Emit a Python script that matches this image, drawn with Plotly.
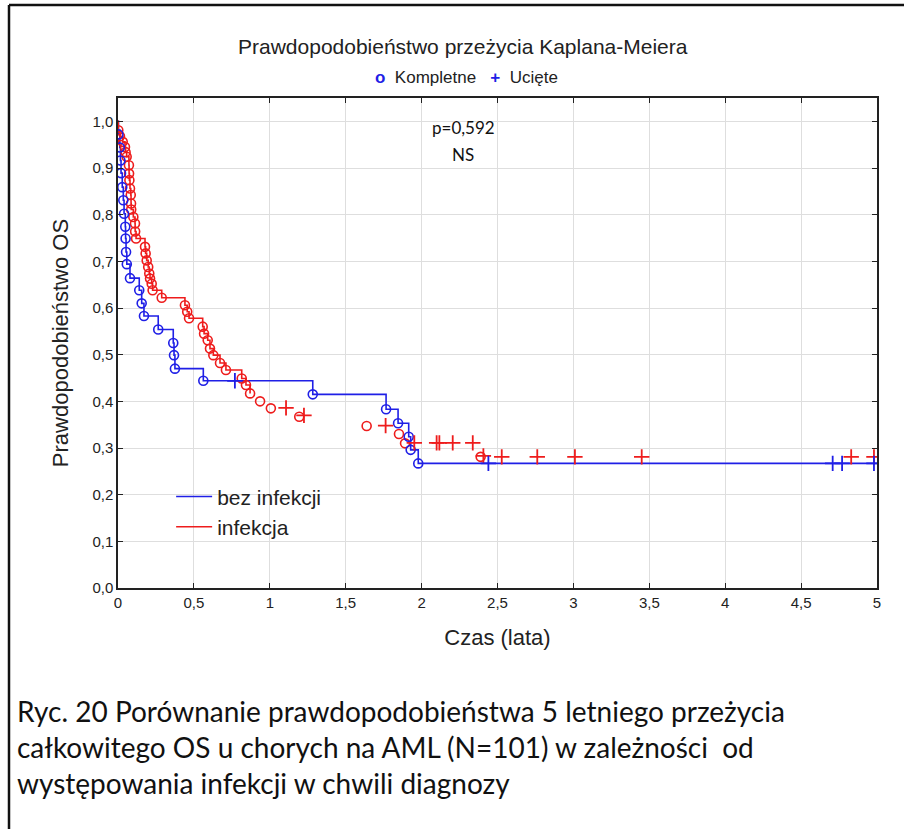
import plotly.graph_objects as go

# Kaplan-Meier: group without infection at diagnosis
blue_event_t = [0.003, 0.012, 0.016, 0.020, 0.028, 0.035, 0.040, 0.048, 0.050, 0.053,
                0.058, 0.079, 0.140, 0.156, 0.171, 0.265, 0.364, 0.369, 0.375, 0.562,
                1.283, 1.766, 1.845, 1.915, 1.928, 1.978]
blue_event_s = [0.972, 0.944, 0.916, 0.889, 0.859, 0.831, 0.802, 0.774, 0.749, 0.720,
                0.694, 0.664, 0.638, 0.610, 0.583, 0.554, 0.525, 0.499, 0.470, 0.444,
                0.415, 0.383, 0.353, 0.324, 0.296, 0.267]
blue_cens_t = [0.77, 2.44, 4.708, 4.77, 4.98]
blue_cens_s = [0.444, 0.267, 0.267, 0.267, 0.267]
blue_end_t = 5.0

# Kaplan-Meier: group with infection at diagnosis (stepped part)
red_event_t = [0.002, 0.013, 0.031, 0.046, 0.050, 0.057, 0.072, 0.073, 0.075, 0.079,
               0.084, 0.086, 0.087, 0.101, 0.112, 0.113, 0.119, 0.178, 0.182, 0.189,
               0.199, 0.206, 0.211, 0.222, 0.228, 0.288, 0.441, 0.456, 0.468, 0.558,
               0.567, 0.591, 0.606, 0.628, 0.672, 0.711, 0.815, 0.843, 0.870]
red_event_s = [0.981, 0.968, 0.956, 0.945, 0.934, 0.924, 0.906, 0.888, 0.874, 0.856,
               0.842, 0.824, 0.811, 0.795, 0.781, 0.764, 0.749, 0.731, 0.717, 0.702,
               0.688, 0.674, 0.663, 0.652, 0.638, 0.622, 0.606, 0.592, 0.578, 0.560,
               0.545, 0.531, 0.513, 0.499, 0.482, 0.467, 0.449, 0.435, 0.417]
# later events of the infection group (drawn as points only)
red_late_event_t = [0.936, 1.007, 1.194, 1.638, 1.851, 1.891, 2.389]
red_late_event_s = [0.400, 0.385, 0.367, 0.347, 0.330, 0.310, 0.281]
red_cens_t = [1.107, 1.225, 1.763, 1.952, 2.099, 2.117, 2.205, 2.337, 2.407, 2.528,
              2.762, 3.01, 3.45, 4.83, 4.98]
red_cens_s = [0.386, 0.370, 0.348, 0.311, 0.311, 0.311, 0.311, 0.311, 0.283, 0.281,
              0.281, 0.281, 0.281, 0.281, 0.281]

x_ticks = [0, 0.5, 1, 1.5, 2, 2.5, 3, 3.5, 4, 4.5, 5]
x_ticktext = ["0", "0,5", "1", "1,5", "2", "2,5", "3", "3,5", "4", "4,5", "5"]
y_ticks = [0.0, 0.1, 0.2, 0.3, 0.4, 0.5, 0.6, 0.7, 0.8, 0.9, 1.0]
y_ticktext = ["0,0", "0,1", "0,2", "0,3", "0,4", "0,5", "0,6", "0,7", "0,8", "0,9", "1,0"]

BLUE = "#1f1fe6"
RED = "#ee1c1c"
FONT = "Liberation Sans"

fig = go.Figure()

# step lines
fig.add_trace(go.Scatter(
    x=[0] + blue_event_t + [blue_end_t], y=[1.0] + blue_event_s + [blue_event_s[-1]],
    mode="lines", line=dict(color=BLUE, width=1.6, shape="hv"),
    name="bez infekcji", showlegend=True, hoverinfo="skip"))
fig.add_trace(go.Scatter(
    x=[0] + red_event_t, y=[1.0] + red_event_s,
    mode="lines", line=dict(color=RED, width=1.6, shape="hv"),
    name="infekcja", showlegend=True, hoverinfo="skip"))

# complete observations (circles)
circle = dict(symbol="circle-open", size=9, line=dict(width=1.6))
fig.add_trace(go.Scatter(
    x=red_event_t + red_late_event_t, y=red_event_s + red_late_event_s,
    mode="markers", marker=dict(color=RED, **circle), showlegend=False))
fig.add_trace(go.Scatter(
    x=blue_event_t, y=blue_event_s,
    mode="markers", marker=dict(color=BLUE, **circle), showlegend=False))

# censored observations (crosses)
cross = dict(symbol="cross-thin-open", size=11, line=dict(width=1.8))
fig.add_trace(go.Scatter(
    x=red_cens_t, y=red_cens_s, mode="markers",
    marker=dict(color=RED, **cross), showlegend=False))
fig.add_trace(go.Scatter(
    x=blue_cens_t, y=blue_cens_s, mode="markers",
    marker=dict(color=BLUE, **cross), showlegend=False))

axis_common = dict(
    showline=True, linecolor="#222222", linewidth=1.5, mirror="ticks",
    ticks="inside", ticklen=5, tickcolor="#222222", tickwidth=1,
    showgrid=True, gridcolor="#dedede", gridwidth=1, zeroline=False,
    tickfont=dict(family=FONT, size=15, color="#222222"),
)

fig.update_layout(
    width=904, height=829,
    margin=dict(l=118, r=27, t=98, b=241),
    paper_bgcolor="white", plot_bgcolor="white",
    xaxis=dict(range=[0, 5], tickvals=x_ticks, ticktext=x_ticktext,
               title=dict(text="Czas (lata)", font=dict(family=FONT, size=22, color="#222222"),
                          standoff=20),
               **axis_common),
    yaxis=dict(range=[0, 1.05], tickvals=y_ticks, ticktext=y_ticktext,
               title=dict(text="Prawdopodobieństwo OS", font=dict(family=FONT, size=22, color="#222222"),
                          standoff=18),
               **axis_common),
    legend=dict(x=0.07, y=0.228, xanchor="left", yanchor="top",
                bgcolor="rgba(0,0,0,0)", font=dict(family=FONT, size=21, color="#222222"),
                tracegroupgap=0, itemwidth=36),
    showlegend=True,
)

# chart title and marker key
fig.add_annotation(text="Prawdopodobieństwo przeżycia Kaplana-Meiera",
                   xref="paper", yref="paper", x=0.454, y=(588 - 46) / 490,
                   xanchor="center", yanchor="middle", showarrow=False,
                   font=dict(family=FONT, size=21, color="#222222"))
fig.add_annotation(text="<span style='color:%s'><b>o</b></span>  Kompletne   "
                        "<span style='color:%s'><b>+</b></span>  Ucięte" % (BLUE, BLUE),
                   xref="paper", yref="paper", x=0.459, y=(588 - 78) / 490,
                   xanchor="center", yanchor="middle", showarrow=False,
                   font=dict(family=FONT, size=17, color="#222222"))

# log-rank test result
fig.add_annotation(text="p=0,592", xref="paper", yref="paper", x=0.455, y=(588 - 128) / 490,
                   xanchor="center", yanchor="middle",
                   showarrow=False, font=dict(family="Lato", size=17, color="#111111"))
fig.add_annotation(text="NS", xref="paper", yref="paper", x=0.455, y=(588 - 154) / 490,
                   xanchor="center", yanchor="middle",
                   showarrow=False, font=dict(family="Lato", size=17, color="#111111"))

# figure caption
caption = ["Ryc. 20 Porównanie prawdopodobieństwa 5 letniego przeżycia",
           "całkowitego OS u chorych na AML (N=101) w zależności  od",
           "występowania infekcji w chwili diagnozy"]
for i, line in enumerate(caption):
    fig.add_annotation(text=line, xref="paper", yref="paper",
                       x=(15 - 118) / 759, y=(588 - (711 + 36 * i)) / 490,
                       xanchor="left", yanchor="middle", showarrow=False,
                       font=dict(family="Lato", size=28, color="#111111"))

# outer frame (top and left edges visible)
fig.add_shape(type="line", xref="paper", yref="paper",
              x0=(9 - 118) / 759, x1=(910 - 118) / 759,
              y0=(588 - 5) / 490, y1=(588 - 5) / 490,
              line=dict(color="#111111", width=2.5))
fig.add_shape(type="line", xref="paper", yref="paper",
              x0=(9 - 118) / 759, x1=(9 - 118) / 759,
              y0=(588 - 5) / 490, y1=(588 - 840) / 490,
              line=dict(color="#111111", width=2.5))

fig.write_html("out.html")
